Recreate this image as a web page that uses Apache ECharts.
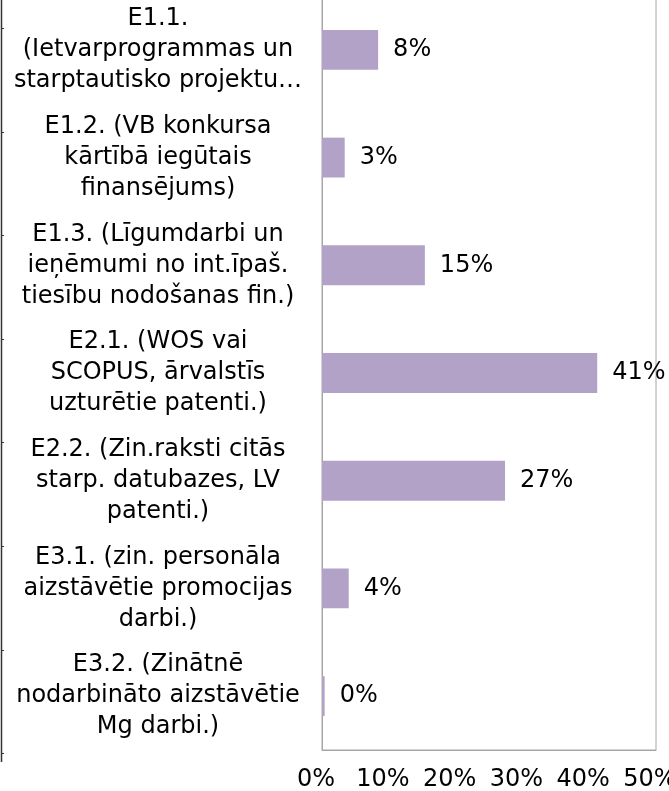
<!DOCTYPE html>
<html>
<head>
<meta charset="utf-8">
<script src="https://cdn.jsdelivr.net/npm/echarts@6/dist/echarts.min.js"></script>
<style>
  html, body { margin: 0; padding: 0; background: #fff; }
  #chart { width: 669px; height: 791px; }
</style>
</head>
<body>
<div id="chart"></div>
<script>
// categories (top to bottom)
const categories = [
  "E1.1.\n(Ietvarprogrammas un\nstarptautisko projektu…",
  "E1.2. (VB konkursa\nkārtībā iegūtais\nfinansējums)",
  "E1.3. (Līgumdarbi un\nieņēmumi no int.īpaš.\ntiesību nodošanas fin.)",
  "E2.1. (WOS vai\nSCOPUS, ārvalstīs\nuzturētie patenti.)",
  "E2.2. (Zin.raksti citās\nstarp. datubazes, LV\npatenti.)",
  "E3.1. (zin. personāla\naizstāvētie promocijas\ndarbi.)",
  "E3.2. (Zinātnē\nnodarbināto aizstāvētie\nMg darbi.)"
];
// share in percent
const shares = [8.4, 3.4, 15.4, 41.2, 27.4, 4.0, 0.4];

const chart = echarts.init(document.getElementById("chart"));
const font = "DejaVu Sans, Verdana, sans-serif";

// thin left border line with small ticks (decoration)
const leftDeco = [{
  type: "line",
  shape: { x1: 1.5, y1: 0, x2: 1.5, y2: 762 },
  style: { stroke: "#333", lineWidth: 1.5 }
}];
for (let i = 0; i < 8; i++) {
  const y = Math.round(28 + i * 103.6) + 0.5;
  leftDeco.push({
    type: "line",
    shape: { x1: 1.5, y1: y, x2: 4, y2: y },
    style: { stroke: "#333", lineWidth: 1 }
  });
}

chart.setOption({
  animation: false,
  backgroundColor: "#fff",
  textStyle: { fontFamily: font },
  grid: {
    left: 322, right: 13, top: -4, bottom: 41,
    outerBoundsMode: "none",
    containLabel: false,
    show: true, borderColor: "#a6a6a6", borderWidth: 1
  },
  xAxis: {
    type: "value",
    min: 0, max: 50, interval: 10,
    axisLine: { show: true, lineStyle: { color: "#a6a6a6" } },
    axisTick: { show: false },
    splitLine: { show: false },
    axisLabel: {
      margin: 18,
      color: "#000",
      fontSize: 24,
      padding: [0, 12, 0, 0],
      fontFamily: font,
      formatter: v => v + "%"
    }
  },
  yAxis: {
    type: "category",
    inverse: true,
    data: categories,
    axisLine: { show: true, lineStyle: { color: "#a6a6a6" } },
    axisTick: { show: false },
    axisLabel: {
      margin: 164,
      align: "center",
      color: "#000",
      fontSize: 24,
      lineHeight: 31,
      fontFamily: font
    }
  },
  series: [{
    type: "bar",
    data: shares,
    barCategoryGap: "63%",
    itemStyle: { color: "#b3a2c7" },
    label: {
      show: true,
      position: "right",
      distance: 15,
      color: "#000",
      fontSize: 24,
      fontFamily: font,
      formatter: p => Math.round(p.value) + "%"
    }
  }],
  graphic: leftDeco
});
</script>
</body>
</html>
